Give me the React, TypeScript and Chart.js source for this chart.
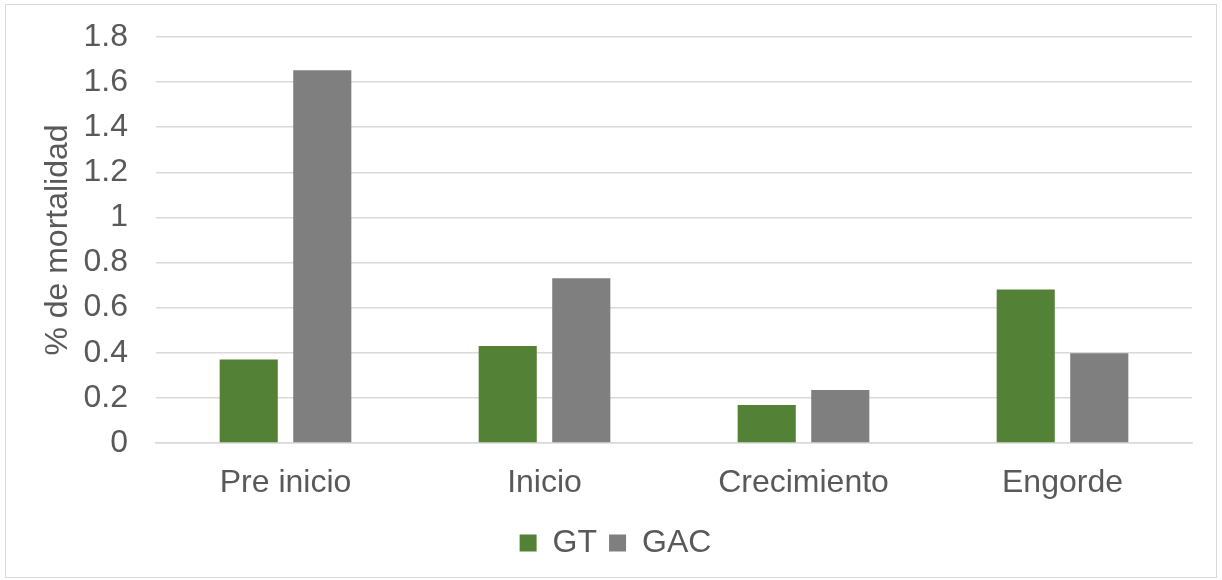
import React, { useEffect, useRef } from "react";
import { Chart, registerables } from "chart.js";

Chart.register(...registerables);

const categories = ["Pre inicio", "Inicio", "Crecimiento", "Engorde"];
const gtValues = [0.37, 0.43, 0.168, 0.68];
const gacValues = [1.653, 0.73, 0.235, 0.398];
const yTicks = [0, 0.2, 0.4, 0.6, 0.8, 1, 1.2, 1.4, 1.6, 1.8];

const FONT = "'Liberation Sans', Arial, sans-serif";
const TEXT = "#595959";
const GRID = "#d9d9d9";

export default function App() {
  const ref = useRef<HTMLCanvasElement | null>(null);
  useEffect(() => {
    document.body.style.margin = "0";
    const ctx = ref.current!;
    const chart = new Chart(ctx, {
      type: "bar",
      data: {
        labels: categories,
        datasets: [
          { label: "GT", data: gtValues, backgroundColor: "#538135", categoryPercentage: 0.568, barPercentage: 0.79 },
          { label: "GAC", data: gacValues, backgroundColor: "#7f7f7f", categoryPercentage: 0.568, barPercentage: 0.79 },
        ],
      },
      options: {
        animation: false,
        responsive: false,
        devicePixelRatio: 1,
        layout: { padding: { left: 39, right: 30, top: 37, bottom: 11 } },
        plugins: {
          tooltip: { enabled: false },
          legend: {
            position: "bottom",
            labels: {
              boxWidth: 17,
              boxHeight: 17,
              font: { family: FONT, size: 32 },
              color: TEXT,
              padding: 12,
            },
          },
        },
        scales: {
          x: {
            grid: { display: false },
            border: { color: GRID, width: 1.5 },
            ticks: { color: TEXT, font: { family: FONT, size: 32 }, padding: 13 },
            afterFit: (s: any) => { s.height = 72; },
          },
          y: {
            min: 0,
            max: 1.8,
            afterBuildTicks: (s: any) => { s.ticks = yTicks.map((v) => ({ value: v })); },
            grid: { color: GRID, lineWidth: 1.5, drawTicks: false },
            border: { display: false },
            ticks: {
              color: TEXT,
              font: { family: FONT, size: 32 },
              padding: 28,
              callback: (v: any) => String(Number(v)),
            },
            title: {
              display: true,
              text: "% de mortalidad",
              color: TEXT,
              font: { family: FONT, size: 32 },
              padding: 0,
            },
            afterFit: (s: any) => {
              s.width = 117;
              s.paddingTop = 0;
              s.paddingBottom = 0;
            },
          },
        },
      },
    });
    return () => chart.destroy();
  }, []);
  return (
    <div style={{ position: "absolute", left: 0, top: 0, width: 1222, height: 580 }}>
      <canvas ref={ref} width={1222} height={580} style={{ position: "absolute", left: 0, top: 0 }} />
      <div
        style={{
          position: "absolute",
          left: 5,
          top: 4,
          width: 1210,
          height: 572,
          border: "1.5px solid #d9d9d9",
          pointerEvents: "none",
        }}
      />
    </div>
  );
}
